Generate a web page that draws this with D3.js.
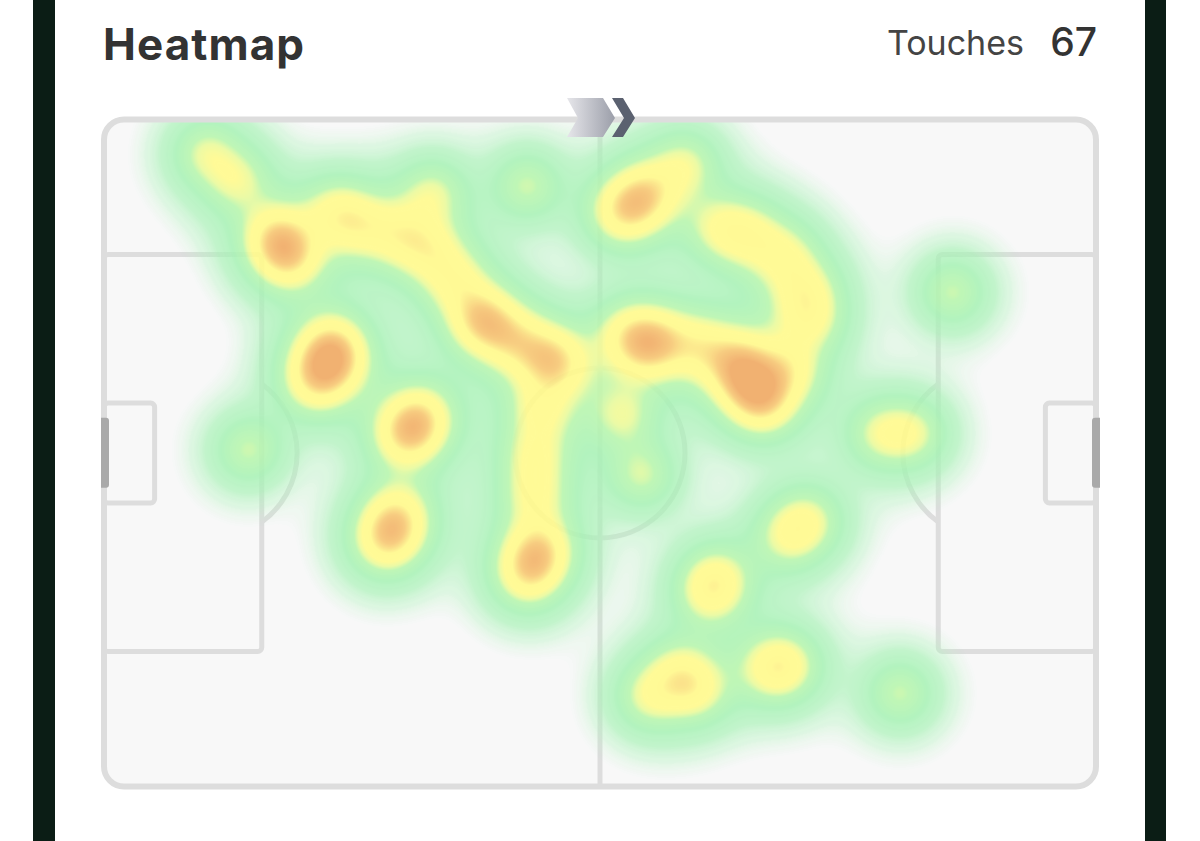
<!DOCTYPE html>
<html><head><meta charset="utf-8">
<script src="https://cdn.jsdelivr.net/npm/d3@7"></script>
<style>body{margin:0;background:#fff}svg{display:block}</style>
</head><body>
<script>
// ---- data (pitch units: x 0-100 along length, y 0-100 across) ----
const titleText = "Heatmap";
const statLabel = "Touches";
const touchX = [10.2,13.4, 17.1,18.8,18.0, 23.3,25.8,29.8,32.9,33.1, 37.7,38.6,41.4,44.5,46.0, 21.2,23.0,22.0,23.4,
  30.2,32.1,31.1, 28.2,29.7,29.0, 42.5,44.1,43.3, 44.0,43.4,43.4, 14.5, 42.6, 35.4,
  51.9,53.4,55.0,58.6, 62.1,65.1,68.6,70.7,71.2,69.2, 52.8,54.5,56.0,60.1,63.6,64.6,65.6,66.6,
  85.5, 78.2,81.6, 52.2,54.2, 68.9,71.0, 61.0,61.8, 54.8,57.9,59.8, 67.1,68.9, 80.2];
const touchY = [4.8,9.0, 17.3,21.2,19.0, 13.5,15.8,17.3,19.5,10.8, 29.3,30.8,33.0,35.3,36.8, 39.6,33.2,36.8,35.9,
  47.6,44.0,46.2, 63.6,59.0,61.6, 68.7,64.0,66.1, 43.5,50.3,56.3, 49.5, 9.8, 24.0,
  14.2,12.5,10.6,6.5, 16.2,17.3,20.3,25.5,30.0,37.5, 32.0,34.2,33.0,33.8,36.0,38.3,40.8,42.8,
  25.8, 47.0,47.0, 44.3,53.3, 62.5,60.0, 71.0,68.7, 86.6,83.0,85.6, 82.3,81.8, 86.0];

// heat colour stops (kernel-sum value -> colour / alpha)
const heatStops  = [0.03, 0.1, 0.25, 0.55, 0.95, 1.15, 1.38, 1.85, 2.3, 2.8];
const heatColors = ["#b4f4c0","#b0f4bc","#a8f2b6","#a6f2b4","#b8f5ae","#e8f99c","#fffa8c","#fff88a","#f6c672","#f0a862"];
const heatAlpha  = [0, 0.35, 0.68, 0.85, 0.9, 0.9, 0.9, 0.9, 0.9, 0.9];

const W = 1200, H = 841;
const svg = d3.select("body").append("svg").attr("width", W).attr("height", H);

// page frame
svg.append("rect").attr("x",0).attr("y",0).attr("width",W).attr("height",H).attr("fill","#fff");
svg.append("rect").attr("x",33).attr("y",0).attr("width",22).attr("height",H).attr("fill","#0b1d15");
svg.append("rect").attr("x",1145).attr("y",0).attr("width",21).attr("height",H).attr("fill","#0b1d15");

// header
svg.append("text").attr("x",103).attr("y",60).text(titleText)
  .attr("font-family","Inter, 'Noto Sans', sans-serif").attr("font-weight",700)
  .attr("font-size",44).attr("fill","#333")
  .attr("textLength",201).attr("lengthAdjust","spacing");
svg.append("text").attr("x",1097).attr("y",56).attr("text-anchor","end").text(touchX.length)
  .attr("font-family","Inter, 'Noto Sans', sans-serif").attr("font-weight",500)
  .attr("font-size",39).attr("fill","#333");
svg.append("text").attr("x",1024).attr("y",55).attr("text-anchor","end").text(statLabel)
  .attr("font-family","Inter, 'Noto Sans', sans-serif").attr("font-weight",400)
  .attr("font-size",34).attr("fill","#444");

// scales
const x = d3.scaleLinear().domain([0,100]).range([104,1096]);
const y = d3.scaleLinear().domain([0,100]).range([120,786]);
const line = "#dddddd";

const defs = svg.append("defs");
defs.append("clipPath").attr("id","pc").append("rect")
  .attr("x",x(0)).attr("y",y(0)).attr("width",x(100)-x(0)).attr("height",y(100)-y(0)).attr("rx",20);
const g1 = defs.append("linearGradient").attr("id","ag").attr("x1","0%").attr("x2","100%");
g1.append("stop").attr("offset","0%").attr("stop-color","#e6e6ea");
g1.append("stop").attr("offset","100%").attr("stop-color","#9b9ea9");

// pitch
svg.append("rect").attr("x",x(0)).attr("y",y(0)).attr("width",x(100)-x(0)).attr("height",y(100)-y(0))
  .attr("rx",20).attr("fill","#f8f8f8");
const lines = svg.append("g").attr("fill","none").attr("stroke",line).attr("stroke-width",5);
lines.append("line").attr("x1",x(50)).attr("x2",x(50)).attr("y1",y(0)).attr("y2",y(100));
const rc = 85;
lines.append("circle").attr("cx",x(50)).attr("cy",y(50)).attr("r",rc);
// boxes
const boxes = [[0,15.9,20.2,79.8],[84.1,100,20.2,79.8],[0,5.1,42.5,57.5],[94.9,100,42.5,57.5]];
boxes.forEach(b => lines.append("rect").attr("x",x(b[0])).attr("y",y(b[2]))
  .attr("width",x(b[1])-x(b[0])).attr("height",y(b[3])-y(b[2])).attr("rx",4));
// penalty arcs
const a0 = Math.asin((x(15.9)-x(10.9))/rc);
lines.append("path").attr("transform",`translate(${x(10.9)},${y(50)})`)
  .attr("d", d3.arc()({innerRadius:rc,outerRadius:rc,startAngle:a0,endAngle:Math.PI-a0}));
lines.append("path").attr("transform",`translate(${x(89.1)},${y(50)})`)
  .attr("d", d3.arc()({innerRadius:rc,outerRadius:rc,startAngle:-Math.PI+a0,endAngle:-a0}));

// heatmap: kernel = sharp core + wide soft tail
const pw = Math.round(x(100)-x(0)), ph = Math.round(y(100)-y(0));
const grid = new Float32Array(pw*ph);
const sA = 22, sB = 36, wA = 0.7, wB = 0.3, R = 120;
for (let i=0;i<touchX.length;i++){
  const cx = x(touchX[i])-x(0), cy = y(touchY[i])-y(0);
  const x0 = Math.max(0,Math.floor(cx-R)), x1 = Math.min(pw-1,Math.ceil(cx+R));
  const y0 = Math.max(0,Math.floor(cy-R)), y1 = Math.min(ph-1,Math.ceil(cy+R));
  for (let py=y0;py<=y1;py++){
    const dy=py-cy;
    for (let px=x0;px<=x1;px++){
      const dx=px-cx, d2=dx*dx+dy*dy;
      grid[py*pw+px] += wA*Math.exp(-d2/(2*sA*sA)) + wB*Math.exp(-d2/(2*sB*sB));
    }
  }
}
const cScale = d3.scaleLinear().domain(heatStops).range(heatColors).interpolate(d3.interpolateRgb).clamp(true);
const aScale = d3.scaleLinear().domain(heatStops).range(heatAlpha).clamp(true);
const N = 1000, vmax = 5;
const lut = [];
for (let k=0;k<=N;k++){ const v=k/N*vmax; const c=d3.rgb(cScale(v)); lut.push([c.r,c.g,c.b,Math.round(aScale(v)*255)]); }
const canvas = document.createElement("canvas");
canvas.width = pw; canvas.height = ph;
const ctx = canvas.getContext("2d");
const img = ctx.createImageData(pw,ph);
for (let i=0;i<grid.length;i++){
  const v = grid[i]; if (v<0.03) continue;
  const e = lut[Math.min(N,Math.round(v/vmax*N))];
  img.data[i*4]=e[0]; img.data[i*4+1]=e[1]; img.data[i*4+2]=e[2]; img.data[i*4+3]=e[3];
}
ctx.putImageData(img,0,0);
svg.append("image").attr("x",x(0)).attr("y",y(0)).attr("width",pw).attr("height",ph)
  .attr("href",canvas.toDataURL()).attr("clip-path","url(#pc)");

// outer border on top
svg.append("rect").attr("x",x(0)).attr("y",y(0)-0.5).attr("width",x(100)-x(0)).attr("height",y(100)-y(0)+1)
  .attr("rx",20).attr("fill","none").attr("stroke",line).attr("stroke-width",6);

// goals
svg.append("path").attr("fill","#a9a9a9")
  .attr("d",`M${x(0)-3},${y(44.7)} h5 a3,3 0 0 1 3,3 v${y(55.2)-y(44.7)-6} a3,3 0 0 1 -3,3 h-5 z`);
svg.append("path").attr("fill","#a9a9a9")
  .attr("d",`M${x(100)+4},${y(44.7)} h-5 a3,3 0 0 0 -3,3 v${y(55.2)-y(44.7)-6} a3,3 0 0 0 3,3 h5 z`);

// direction arrow
const ax = x(50), ay = y(0) - 2;
svg.append("path").attr("fill","url(#ag)")
  .attr("d",`M${ax-33},${ay-20} L${ax+3},${ay-20} L${ax+15},${ay} L${ax+3},${ay+19} L${ax-33},${ay+19} L${ax-22},${ay} Z`);
svg.append("path").attr("fill","#5b6170")
  .attr("d",`M${ax+12},${ay-20} L${ax+23},${ay-20} L${ax+35},${ay} L${ax+23},${ay+19} L${ax+12},${ay+19} L${ax+24},${ay} Z`);
</script>
</body></html>
